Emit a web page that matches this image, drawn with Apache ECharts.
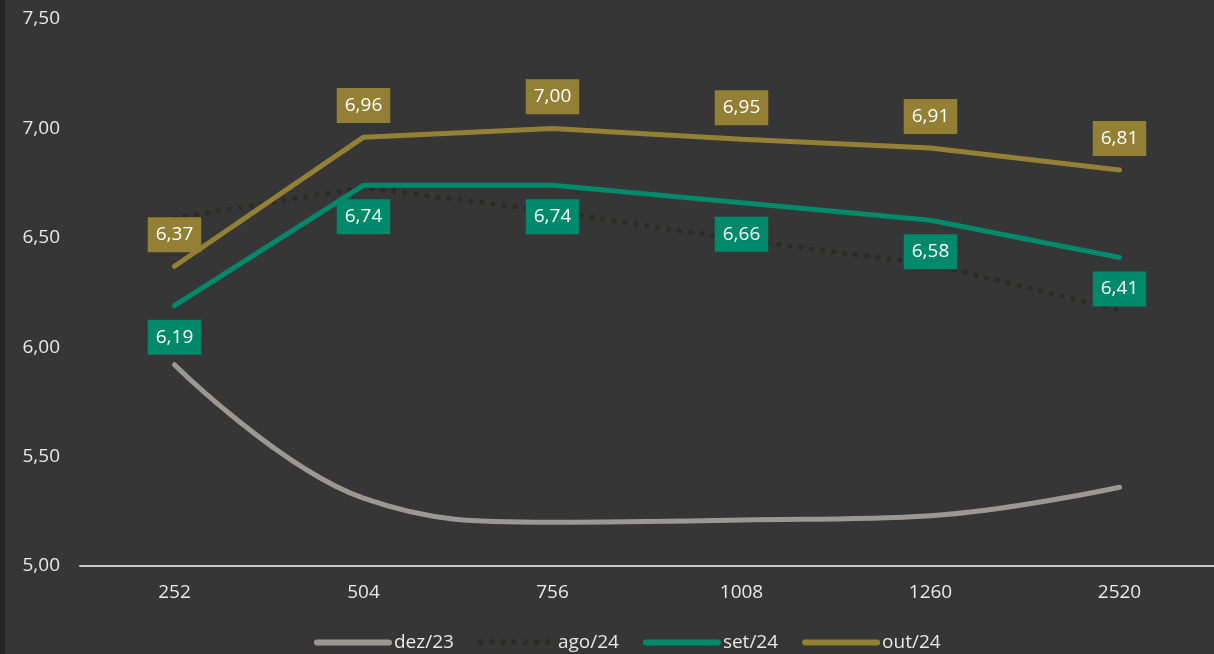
<!DOCTYPE html>
<html>
<head>
<meta charset="utf-8">
<script src="https://cdn.jsdelivr.net/npm/echarts@6/dist/echarts.min.js"></script>
<style>
    html, body {margin: 0; padding: 0; background: #363636;}
    #chart {width: 1214px; height: 654px;}
</style>
</head>
<body>
<div id="chart"></div>
<script>
//prazos (dias úteis)
var categories = ['252', '504', '756', '1008', '1260', '2520'];

//curvas
var dez23 = [5.92, 5.31, 5.20, 5.21, 5.23, 5.36];
var ago24 = [6.59, 6.73, 6.62, 6.49, 6.38, 6.17];
var set24 = [6.19, 6.74, 6.74, 6.66, 6.58, 6.41];
var out24 = [6.37, 6.96, 7.00, 6.95, 6.91, 6.81];

var yTicks = [5.0, 5.5, 6.0, 6.5, 7.0, 7.5];

var font = '"Open Sans", "Noto Sans", sans-serif';

function fmt(v) {
    return v.toFixed(2).replace('.', ',');
}

function boxLabel(pos, bg) {
    return {
        show: true,
        position: pos,
        distance: 14,
        backgroundColor: bg,
        color: '#ffffff',
        fontFamily: font,
        fontSize: 19,
        lineHeight: 21,
        padding: [7, 8, 7, 8],
        formatter: function (p) { return fmt(p.value); }
    };
}

var ec = echarts.init(document.getElementById('chart'));

var option = {
    backgroundColor: '#363636',
    animation: false,
    textStyle: {fontFamily: font},
    graphic: [{
        type: 'rect',
        left: 0, top: 0,
        shape: {width: 5, height: 654},
        style: {fill: '#262626'}
    }],
    grid: {left: 80, top: 19, width: 1140, height: 547, containLabel: false},
    legend: {
        top: 628,
        left: 309,
        itemWidth: 72,
        itemHeight: 14,
        itemGap: 24,
        itemStyle: {opacity: 0},
        lineStyle: {width: 6},
        textStyle: {color: '#e8e8e8', fontSize: 19, fontFamily: font},
        data: ['dez/23', 'ago/24', 'set/24', 'out/24']
    },
    xAxis: {
        type: 'category',
        data: categories,
        boundaryGap: true,
        axisLine: {lineStyle: {color: '#c8c8c8', width: 2}},
        axisTick: {show: false},
        axisLabel: {color: '#e8e8e8', fontSize: 19, margin: 17}
    },
    yAxis: {
        type: 'value',
        min: yTicks[0],
        max: yTicks[yTicks.length - 1],
        interval: 0.5,
        axisLine: {show: false},
        axisTick: {show: false},
        splitLine: {show: false},
        axisLabel: {
            color: '#e8e8e8', fontSize: 19, margin: 20,
            formatter: function (v) { return fmt(v); }
        }
    },
    series: [
        {
            name: 'dez/23', type: 'line', data: dez23, smooth: 0.4,
            symbol: 'none',
            lineStyle: {color: '#9b9892', width: 5, cap: 'round'},
            itemStyle: {color: '#9b9892'}
        },
        {
            name: 'ago/24', type: 'line', data: ago24,
            symbol: 'none',
            lineStyle: {color: '#2b2b27', width: 5, type: [0.1, 11], cap: 'round'},
            itemStyle: {color: '#2b2b27'}
        },
        {
            name: 'set/24', type: 'line', data: set24,
            symbol: 'circle', symbolSize: 0.1, showSymbol: true,
            lineStyle: {color: '#00896a', width: 5, cap: 'round'},
            itemStyle: {color: '#00896a'},
            label: boxLabel('bottom', '#00896a')
        },
        {
            name: 'out/24', type: 'line', data: out24,
            symbol: 'circle', symbolSize: 0.1, showSymbol: true,
            lineStyle: {color: '#938035', width: 5, cap: 'round'},
            itemStyle: {color: '#938035'},
            label: boxLabel('top', '#938035')
        }
    ]
};

ec.setOption(option);
</script>
</body>
</html>
